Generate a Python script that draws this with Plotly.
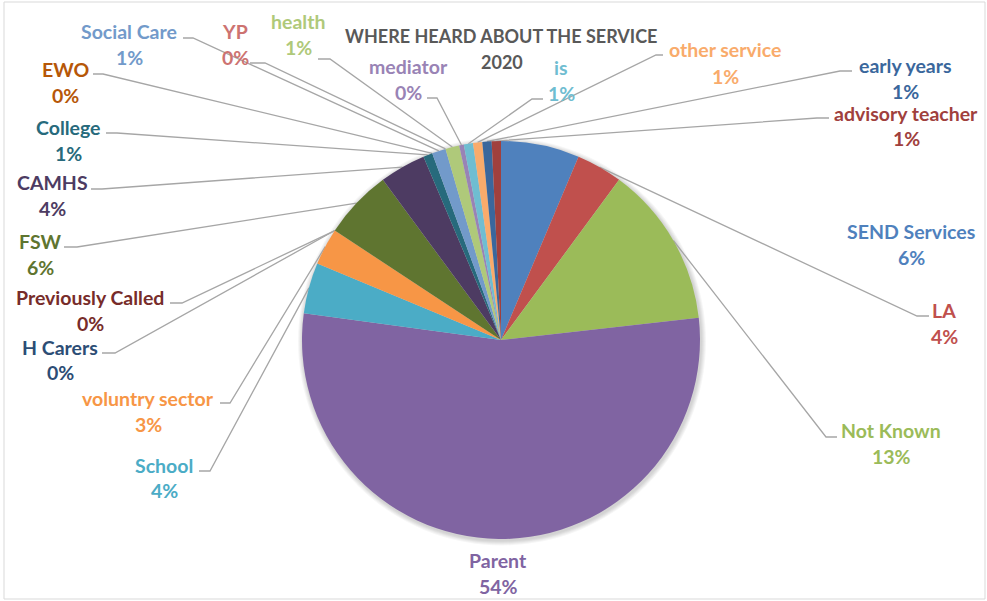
import math
import plotly.graph_objects as go

# Referral sources, in slice order (clockwise from 12 o'clock)
sources = [
    "SEND Services", "LA", "Not Known", "Parent", "School", "voluntry sector",
    "H Carers", "Previously Called", "FSW", "CAMHS", "College", "EWO",
    "Social Care", "YP", "health", "mediator", "is", "other service",
    "early years", "advisory teacher",
]
counts = [17, 10, 35, 144, 11, 8, 0, 0, 15, 10, 2, 0, 3, 0, 3, 1, 2, 2, 2, 2]
colors = [
    "#4F81BD", "#C0504D", "#9BBB59", "#8064A2", "#4BACC6", "#F79646",
    "#2C4D75", "#772C2A", "#5F7530", "#4D3B62", "#276A7C", "#B65708",
    "#729ACA", "#CD7371", "#AFC97A", "#9983B5", "#6FBDD1", "#F9AB6B",
    "#3A679C", "#A0403D",
]
title_lines = ["WHERE HEARD ABOUT THE SERVICE", "2020"]

# Canvas and pie geometry (pixels)
W, H = 987, 601
CX, CY, R = 501, 340, 199

# Label placement: name centre (x, y), percent line y, leader start and elbow
label_pos = {
    "SEND Services":     (911, 231, 257, None),
    "LA":                (944, 310, 336, ((929, 316), (917, 316))),
    "Not Known":         (891, 430, 456, ((837, 437), (826, 437))),
    "Parent":            (498, 560, 586, None),
    "School":            (164, 465, 490, ((199, 471), (210, 471))),
    "voluntry sector":   (148, 398, 424, ((220, 403), (230, 403))),
    "H Carers":          (60, 347, 372, ((102, 353), (115, 353))),
    "Previously Called": (90, 297, 323, ((170, 303), (182, 303))),
    "FSW":               (40, 241, 267, ((64, 247), (77, 247))),
    "CAMHS":             (52, 182, 208, ((91, 189), (102, 189))),
    "College":           (68, 127, 153, ((106, 133), (117, 133))),
    "EWO":               (65, 69, 95, ((93, 74), (103, 74))),
    "Social Care":       (129, 31, 57, ((183, 38), (193, 38))),
    "YP":                (235, 31, 57, ((250, 63), (265, 63))),
    "health":            (298, 21, 47, ((318, 59), (330, 59))),
    "mediator":          (408, 66, 92, ((427, 98), (437, 98))),
    "is":                (561, 67, 93, ((543, 99), (532, 99))),
    "other service":     (725, 49, 76, ((663, 55), (656, 55))),
    "early years":       (905, 65, 91, ((852, 71), (840, 71))),
    "advisory teacher":  (906, 113, 138, ((829, 118), (817, 118))),
}

FONT = "Lato, 'Open Sans', sans-serif"
LABEL_SIZE = 19.5
TITLE_SIZE = 18
LEADER = "#A6A6A6"

total = sum(counts)

fig = go.Figure()

# Soft halo round the pie
shapes = []
for i in range(5, 0, -1):
    rr = R + i
    shapes.append(dict(
        type="circle", xref="x", yref="y", layer="below",
        x0=CX - rr + 1, x1=CX + rr + 1, y0=CY - rr + 1.5, y1=CY + rr + 1.5,
        line=dict(width=0), fillcolor="rgba(0,0,0,0.035)",
    ))
# Chart border
shapes.append(dict(
    type="rect", xref="x", yref="y", x0=4, x1=985, y0=2, y1=599,
    line=dict(color="#D9D9D9", width=1), fillcolor="rgba(0,0,0,0)", layer="below",
))

fig.add_trace(go.Pie(
    labels=sources, values=counts, sort=False, direction="clockwise",
    rotation=0, textinfo="none", hoverinfo="label+percent",
    marker=dict(colors=colors, line=dict(width=0)),
    domain=dict(x=[(CX - R) / W, (CX + R) / W], y=[1 - (CY + R) / H, 1 - (CY - R) / H]),
    showlegend=False,
))

annotations = []
cum = 0
for name, v, col in zip(sources, counts, colors):
    mid = (cum + v / 2) / total * 2 * math.pi
    cum += v
    ex = CX + R * math.sin(mid)
    ey = CY - R * math.cos(mid)
    lx, ly, py, leader = label_pos[name]
    pct = f"{int(v / total * 100 + 0.5)}%"
    annotations.append(dict(x=lx, y=ly, xref="x", yref="y", text=f"<b>{name}</b>",
                            showarrow=False, font=dict(family=FONT, size=LABEL_SIZE, color=col)))
    annotations.append(dict(x=lx, y=py, xref="x", yref="y", text=f"<b>{pct}</b>",
                            showarrow=False, font=dict(family=FONT, size=LABEL_SIZE, color=col)))
    if leader:
        (sx, sy), (bx, by) = leader
        fig.add_trace(go.Scatter(
            x=[sx, bx, ex], y=[sy, by, ey], mode="lines",
            line=dict(color=LEADER, width=1.3), hoverinfo="skip", showlegend=False,
        ))

annotations.append(dict(x=501, y=36, xref="x", yref="y", text=f"<b>{title_lines[0]}</b>",
                        showarrow=False, font=dict(family=FONT, size=TITLE_SIZE, color="#595959")))
annotations.append(dict(x=502, y=62, xref="x", yref="y", text=f"<b>{title_lines[1]}</b>",
                        showarrow=False, font=dict(family=FONT, size=TITLE_SIZE, color="#595959")))

fig.update_layout(
    width=W, height=H, margin=dict(l=0, r=0, t=0, b=0),
    paper_bgcolor="white", plot_bgcolor="rgba(0,0,0,0)",
    xaxis=dict(range=[0, W], visible=False, fixedrange=True, domain=[0, 1]),
    yaxis=dict(range=[H, 0], visible=False, fixedrange=True, domain=[0, 1]),
    shapes=shapes, annotations=annotations,
)

fig.write_html("out.html")
